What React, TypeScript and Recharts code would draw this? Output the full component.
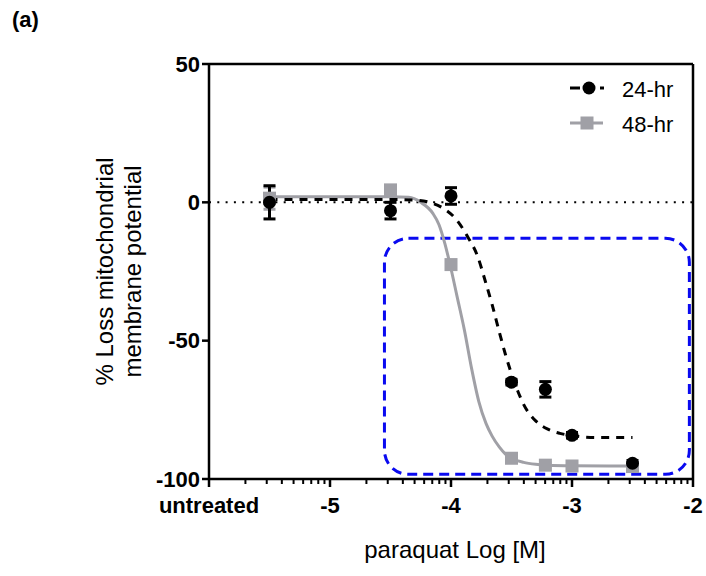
import {
  ComposedChart, Line, Scatter, XAxis, YAxis, ErrorBar, ReferenceLine, ReferenceArea, Legend, Label,
} from 'recharts';

const FONT = 'Liberation Sans, Arial, sans-serif';
const GRAY = '#a0a0a6';
const BLUE = '#0a0af0';

// measured points: x = log[M] (untreated drawn at -5.5), y = % loss, err = SEM
const points24 = [
  { x: -5.5, y: 0, err: 6 },
  { x: -4.5, y: -3, err: 3 },
  { x: -4.0, y: 2.3, err: 3 },
  { x: -3.5, y: -65, err: 1 },
  { x: -3.22, y: -67.6, err: 2.8 },
  { x: -3.0, y: -84.2, err: 1 },
  { x: -2.5, y: -94.3, err: 1 },
];
const points48 = [
  { x: -5.5, y: 1.5, err: 4 },
  { x: -4.5, y: 4.5, err: 1.5 },
  { x: -4.0, y: -22.5, err: 1 },
  { x: -3.5, y: -92.5, err: 1 },
  { x: -3.22, y: -95, err: 1 },
  { x: -3.0, y: -95.3, err: 1 },
  { x: -2.5, y: -95.5, err: 1 },
];

// fitted curves
const fit24 = [
  { x: -5.5, y: 1 }, { x: -4.5, y: 1 }, { x: -4.3, y: 0.8 }, { x: -4.18, y: 0 },
  { x: -4.07, y: -2 }, { x: -3.96, y: -6 }, { x: -3.86, y: -12.6 }, { x: -3.78, y: -19.5 },
  { x: -3.72, y: -28 }, { x: -3.66, y: -37 }, { x: -3.6, y: -47 }, { x: -3.55, y: -55 },
  { x: -3.5, y: -62 }, { x: -3.45, y: -68 }, { x: -3.4, y: -73 }, { x: -3.3, y: -79 },
  { x: -3.2, y: -82 }, { x: -3.1, y: -83.5 }, { x: -3.0, y: -84.3 }, { x: -2.8, y: -85 },
  { x: -2.5, y: -85 },
];
const fit48 = [
  { x: -5.5, y: 2 }, { x: -4.5, y: 2 }, { x: -4.35, y: 1.8 }, { x: -4.25, y: 0 },
  { x: -4.15, y: -4 }, { x: -4.1, y: -8 }, { x: -4.05, y: -15 }, { x: -4.0, y: -24 },
  { x: -3.95, y: -34 }, { x: -3.89, y: -46 }, { x: -3.83, y: -60 }, { x: -3.77, y: -72 },
  { x: -3.71, y: -80 }, { x: -3.66, y: -84.5 }, { x: -3.6, y: -88.5 }, { x: -3.55, y: -91 },
  { x: -3.5, y: -92.5 }, { x: -3.4, y: -94 }, { x: -3.3, y: -94.7 }, { x: -3.2, y: -95 },
  { x: -3.0, y: -95.2 }, { x: -2.5, y: -95.3 },
];

const majorTicks = [-6, -5, -4, -3, -2];
const majorLabels = ['untreated', '-5', '-4', '-3', '-2'];
const minorTicks: number[] = [];
[-6, -5, -4, -3].forEach((d) => {
  [2, 3, 4, 5, 6, 7, 8, 9].forEach((k) => minorTicks.push(d + Math.log10(k)));
});
const yTicks = [-100, -50, 0, 50];

// highlighted region [x1, x2, y1, y2]
const highlightBox = [-4.55, -2.03, -98.3, -13];

function XTick(props: any) {
  const { x, y, payload } = props;
  const idx = majorTicks.indexOf(payload.value);
  if (idx < 0) {
    return <line x1={x} x2={x} y1={y} y2={y + 5} stroke="#000" strokeWidth={2} />;
  }
  return (
    <g>
      <line x1={x} x2={x} y1={y} y2={y + 8} stroke="#000" strokeWidth={2.5} />
      <text x={x} y={y + 34} textAnchor="middle" fontSize={22} fontWeight="bold" fontFamily={FONT} fill="#000">
        {majorLabels[idx]}
      </text>
    </g>
  );
}

function YTitle(props: any) {
  const vb = props.viewBox;
  const cy = vb.y + vb.height / 2;
  return (
    <g fontFamily={FONT} fontSize={24} fill="#000">
      <text x={113} y={cy} textAnchor="middle" transform={`rotate(-90 113 ${cy})`}>% Loss mitochondrial</text>
      <text x={141} y={cy} textAnchor="middle" transform={`rotate(-90 141 ${cy})`}>membrane potential</text>
    </g>
  );
}

function XTitle(props: any) {
  const vb = props.viewBox;
  return (
    <text x={vb.x + vb.width / 2 + 4} y={558} textAnchor="middle" fontFamily={FONT} fontSize={24} fill="#000">
      paraquat Log [M]
    </text>
  );
}

function LegendBox() {
  return (
    <svg width={130} height={70} style={{ display: 'block' }}>
      <line x1={10} x2={20} y1={18} y2={18} stroke="#000" strokeWidth={3} />
      <circle cx={29} cy={18} r={6.5} fill="#000" />
      <line x1={40} x2={44} y1={18} y2={18} stroke="#000" strokeWidth={3} />
      <text x={62} y={27} fontFamily={FONT} fontSize={22} fill="#000">24-hr</text>
      <line x1={10} x2={43} y1={53} y2={53} stroke={GRAY} strokeWidth={3} />
      <rect x={20.5} y={46.5} width={13} height={13} fill={GRAY} />
      <text x={62} y={62} fontFamily={FONT} fontSize={22} fill="#000">48-hr</text>
    </svg>
  );
}

const Dot24 = (p: any) => <circle cx={p.cx} cy={p.cy} r={6.5} fill="#000" />;
const Sq48 = (p: any) => <rect x={p.cx - 6.5} y={p.cy - 6.5} width={13} height={13} fill={GRAY} />;

const RoundBox = (p: any) => (
  <rect x={p.x} y={p.y} width={p.width} height={p.height} rx={24} ry={24}
    fill="none" stroke={BLUE} strokeWidth={3} strokeDasharray="10 6" />
);

export default function App() {
  return (
    <div style={{ position: 'absolute', left: 0, top: 0, width: 706, height: 576, background: '#fff' }}>
      <svg style={{ position: 'absolute', left: 0, top: 0 }} width={60} height={40}>
        <text x={12} y={27} fontFamily={FONT} fontSize={22} fontWeight="bold" fill="#000">(a)</text>
      </svg>
      <ComposedChart width={706} height={576} margin={{ top: 64, right: 13, bottom: 0, left: 0 }}>
        <XAxis dataKey="x" type="number" domain={[-6, -2]} ticks={[...majorTicks, ...minorTicks]} interval={0}
          tick={<XTick />} tickLine={false} tickSize={0} tickMargin={0} height={97}
          axisLine={{ stroke: '#000', strokeWidth: 2.5 }} allowDataOverflow>
          <Label content={<XTitle />} />
        </XAxis>
        <YAxis type="number" domain={[-100, 50]} ticks={yTicks} width={209} tickSize={7} interval={0}
          tickLine={{ stroke: '#000', strokeWidth: 2.5 }} axisLine={{ stroke: '#000', strokeWidth: 2.5 }}
          tick={{ fill: '#000', fontSize: 22, fontWeight: 'bold', fontFamily: FONT }} allowDataOverflow>
          <Label content={<YTitle />} />
        </YAxis>
        <ReferenceLine y={50} stroke="#000" strokeWidth={2.5} />
        <ReferenceLine x={-2} stroke="#000" strokeWidth={2.5} />
        <ReferenceLine y={0} stroke="#000" strokeWidth={2} strokeDasharray="2 6.3" />
        <ReferenceArea x1={highlightBox[0]} x2={highlightBox[1]} y1={highlightBox[2]} y2={highlightBox[3]}
          shape={RoundBox} />
        <Line data={fit48} dataKey="y" type="monotone" stroke={GRAY} strokeWidth={3} dot={false}
          isAnimationActive={false} legendType="none" />
        <Line data={fit24} dataKey="y" type="monotone" stroke="#000" strokeWidth={3} strokeDasharray="8 7"
          dot={false} isAnimationActive={false} legendType="none" />
        <Scatter data={points48} dataKey="y" shape={Sq48} isAnimationActive={false}>
          <ErrorBar dataKey="err" direction="y" width={6} stroke={GRAY} strokeWidth={3} />
        </Scatter>
        <Scatter data={points24} dataKey="y" shape={Dot24} isAnimationActive={false}>
          <ErrorBar dataKey="err" direction="y" width={6} stroke="#000" strokeWidth={3} />
        </Scatter>
        <Legend layout="vertical" align="center" verticalAlign="middle" content={<LegendBox />}
          wrapperStyle={{ position: 'absolute', left: 560, top: 70, width: 130, height: 70 }} />
      </ComposedChart>
    </div>
  );
}
